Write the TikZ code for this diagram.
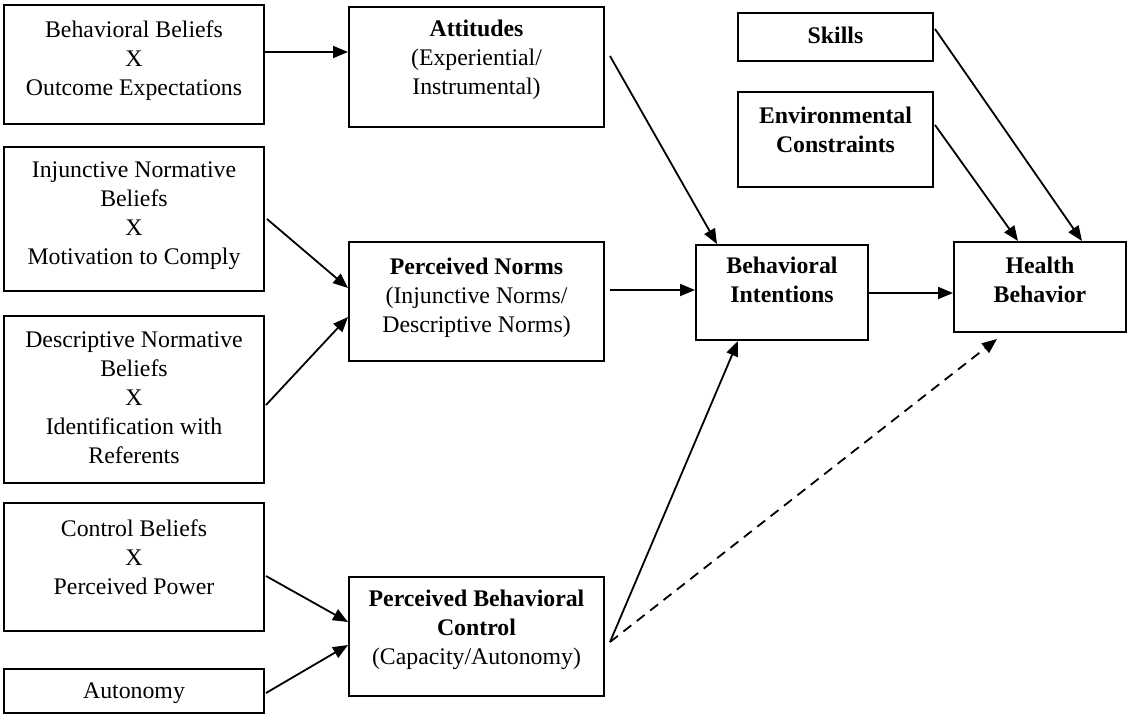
\documentclass[tikz,border=0pt]{standalone}
\usepackage{fontspec}
\setmainfont{Liberation Serif}
\usetikzlibrary{arrows.meta}
\tikzset{
  box/.style={draw=black, line width=2pt, fill=none, inner sep=0pt},
  txt/.style={align=center, inner sep=0pt, font=\fontsize{23.8}{29}\selectfont},
  arr/.style={line width=1.8pt, -{Triangle[length=15pt,width=12pt]}},
  dasharr/.style={arr, dash pattern=on 10pt off 7pt}
}
\begin{document}
\begin{tikzpicture}[x=1pt,y=-1pt]
\useasboundingbox (0,0) rectangle (1127,715);
% left column
\node[box, minimum width=260pt, minimum height=119pt] (b1) at (134,64.5) {};
\node[txt] (t1) at (134,61) {Behavioral Beliefs\\X\\Outcome Expectations};
\node[box, minimum width=260pt, minimum height=144pt] (b2) at (134,219) {};
\node[txt] (t2) at (134,216) {Injunctive Normative\\Beliefs\\X\\Motivation to Comply};
\node[box, minimum width=260pt, minimum height=167pt] (b3) at (134,399.5) {};
\node[txt] (t3) at (134,398) {Descriptive Normative\\Beliefs\\X\\Identification with\\Referents};
\node[box, minimum width=260pt, minimum height=128pt] (b4) at (134,567) {};
\node[txt] (t4) at (134,557.5) {Control Beliefs\\X\\Perceived Power};
\node[box, minimum width=260pt, minimum height=44pt] (b5) at (134,691) {};
\node[txt] (t5) at (134,693) {Autonomy};
% middle column
\node[box, minimum width=255pt, minimum height=120pt] (att) at (476.5,67) {};
\node[txt] (tatt) at (476.5,60) {\textbf{Attitudes}\\(Experiential/\\Instrumental)};
\node[box, minimum width=255pt, minimum height=119pt] (pn) at (476.5,301.5) {};
\node[txt] (tpn) at (476.5,297.5) {\textbf{Perceived Norms}\\(Injunctive Norms/\\Descriptive Norms)};
\node[box, minimum width=255pt, minimum height=119pt] (pbc) at (476.5,636.5) {};
\node[txt] (tpbc) at (476.5,629.5) {\textbf{Perceived Behavioral}\\\textbf{Control}\\(Capacity/Autonomy)};
% right side
\node[box, minimum width=172pt, minimum height=95pt] (bi) at (782,292.5) {};
\node[txt] (tbi) at (782,280) {\textbf{Behavioral}\\\textbf{Intentions}};
\node[box, minimum width=172pt, minimum height=90pt] (hb) at (1040,287) {};
\node[txt] (thb) at (1040,280) {\textbf{Health}\\\textbf{Behavior}};
\node[box, minimum width=195pt, minimum height=48pt] (sk) at (835.5,37) {};
\node[txt] (tsk) at (835.5,35) {\textbf{Skills}};
\node[box, minimum width=195pt, minimum height=95pt] (ec) at (835.5,139.5) {};
\node[txt] (tec) at (835.5,130) {\textbf{Environmental}\\\textbf{Constraints}};
% connectors
\draw[arr] ([yshift=12.5pt]b1.east) -- ([yshift=15pt]att.west);
\draw[arr] ([xshift=2pt]b2.east) -- ([yshift=13.5pt]pn.west);
\draw[arr] ([xshift=1pt,yshift=-5.5pt]b3.east) -- ([yshift=-15.5pt]pn.west);
\draw[arr] ([xshift=1pt,yshift=-9pt]b4.east) -- ([yshift=14.5pt]pbc.west);
\draw[arr] ([xshift=1pt,yshift=-2pt]b5.east) -- ([yshift=-8.5pt]pbc.west);
\draw[arr] ([xshift=5pt,yshift=11pt]att.east) -- ([xshift=-65pt]bi.north);
\draw[arr] ([xshift=5pt,yshift=11.5pt]pn.east) -- ([yshift=2.5pt]bi.west);
\draw[arr] ([xshift=5pt,yshift=-5.5pt]pbc.east) -- ([xshift=-44pt]bi.south);
\draw[dasharr] ([xshift=5pt,yshift=-5.5pt]pbc.east) -- ([xshift=-43pt,yshift=-6pt]hb.south);
\draw[arr] ([yshift=-0.5pt]bi.east) -- ([yshift=-6pt]hb.west);
\draw[arr] ([xshift=1pt,yshift=8pt]sk.east) -- ([xshift=42pt]hb.north);
\draw[arr] ([xshift=1pt,yshift=14.5pt]ec.east) -- ([xshift=-22pt]hb.north);
\end{tikzpicture}
\end{document}
